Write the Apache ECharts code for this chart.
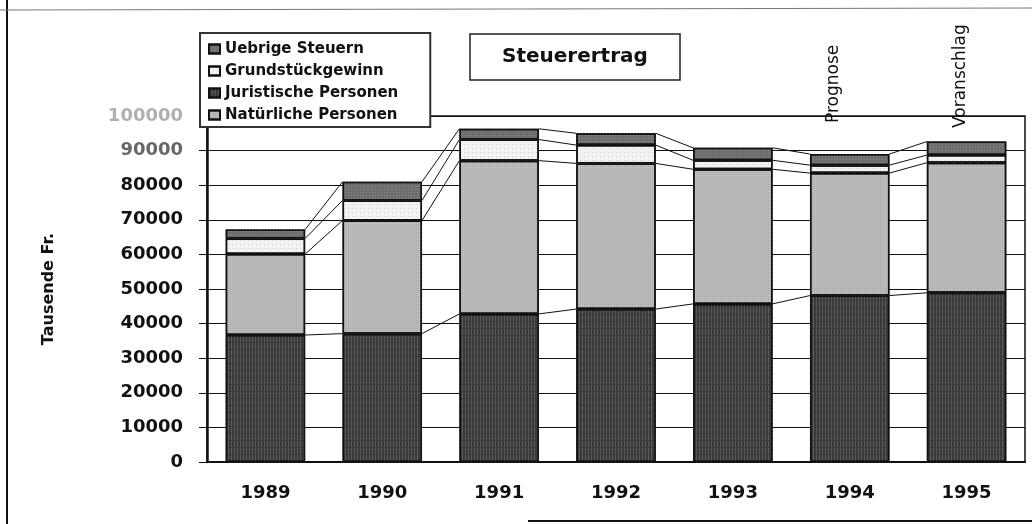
<!DOCTYPE html>
<html>
<head>
<meta charset="utf-8">
<title>Steuerertrag</title>
<script src="https://cdn.jsdelivr.net/npm/echarts@6/dist/echarts.min.js"></script>
<style>
  html, body { margin: 0; padding: 0; background: #fff; }
  #chart { width: 1032px; height: 524px; }
</style>
</head>
<body>
<div id="chart"></div>
<script>
// Daten (Tausende Fr.), von unten nach oben gestapelt
var years = ["1989", "1990", "1991", "1992", "1993", "1994", "1995"];
var juristische = [36700, 37100, 42800, 44200, 45700, 48100, 48900];
var natuerliche = [23400, 32700, 44300, 42100, 38900, 35400, 37600];
var grundstueck = [4500, 5800, 6100, 5300, 2600, 2300, 2200];
var uebrige = [2600, 5400, 3100, 3400, 3600, 3200, 3900];
var noteYears = ["1994", "1995"];
var noteTexts = ["Prognose", "Voranschlag"];

var font = "DejaVu Sans";
var barFrac = 0.68;

// kumulierte Werte je Jahr fuer die Verbindungslinien
var stacks = [juristische, natuerliche, grundstueck, uebrige];
var cum = years.map(function (y, i) {
  var s = 0;
  return stacks.map(function (arr) {
    s += arr[i];
    return s;
  });
});
var linkData = [];
for (var i = 0; i < years.length - 1; i++) {
  linkData.push([i].concat(cum[i], cum[i + 1]));
}

function barSeries(name, data, color, decal) {
  return {
    name: name,
    type: "bar",
    stack: "total",
    barWidth: barFrac * 100 + "%",
    data: data,
    itemStyle: {
      color: color,
      borderColor: "#111",
      borderWidth: 1.5,
      decal: decal
    }
  };
}

var myChart = echarts.init(document.getElementById("chart"));
var option = {
  animation: false,
  backgroundColor: "#fff",
  title: {
    text: "Steuerertrag",
    left: 470,
    top: 34,
    padding: [13, 32, 13, 32],
    borderColor: "#222",
    borderWidth: 1.5,
    textStyle: { fontFamily: font, fontSize: 20, fontWeight: "bold", color: "#111" }
  },
  legend: {
    orient: "vertical",
    left: 200,
    top: 33,
    padding: [7, 32, 3, 8],
    icon: "rect",
    itemWidth: 11,
    itemHeight: 9,
    itemGap: 4,
    backgroundColor: "#fff",
    borderColor: "#333",
    borderWidth: 2,
    data: ["Uebrige Steuern", "Grundstückgewinn", "Juristische Personen", "Natürliche Personen"],
    textStyle: { fontFamily: font, fontSize: 15, fontWeight: "bold", color: "#111", lineHeight: 18 }
  },
  grid: {
    left: 207,
    right: 7,
    top: 116,
    bottom: 62,
    show: true,
    borderColor: "#111",
    borderWidth: 1.5
  },
  xAxis: {
    type: "category",
    data: years,
    axisLine: { lineStyle: { color: "#111", width: 2 } },
    axisTick: { length: 6, lineStyle: { color: "#111" } },
    axisLabel: { margin: 22, fontFamily: font, fontSize: 18, fontWeight: "bold", color: "#111" }
  },
  yAxis: {
    type: "value",
    min: 0,
    max: 100000,
    interval: 10000,
    name: "Tausende Fr.",
    nameLocation: "middle",
    nameRotate: 90,
    nameGap: 150,
    nameTextStyle: { fontFamily: font, fontSize: 16, fontWeight: "bold", color: "#111" },
    axisLine: { show: true, lineStyle: { color: "#111", width: 2.5 } },
    axisTick: { show: true, length: 8, lineStyle: { color: "#111" } },
    axisLabel: {
      margin: 24,
      fontFamily: font,
      fontSize: 18,
      fontWeight: "bold",
      formatter: function (v) {
        return String(v);
      },
      color: function (v) {
        // oberste Beschriftungen sind im Original verblasst
        if (v == 100000) return "#b0b0b0";
        if (v == 90000) return "#666";
        return "#111";
      }
    },
    splitLine: { lineStyle: { color: "#111", width: 1.2 } }
  },
  series: [
    barSeries("Juristische Personen", juristische, "#3a3a3a", {
      symbol: "rect", symbolSize: 1, color: "rgba(255,255,255,0.18)",
      dashArrayX: [1, 2], dashArrayY: [6, 1], rotation: 0
    }),
    barSeries("Natürliche Personen", natuerliche, "#bdbdbd", {
      symbol: "rect", symbolSize: 1, color: "rgba(0,0,0,0.12)",
      dashArrayX: [1, 1], dashArrayY: [1, 1], rotation: 0
    }),
    barSeries("Grundstückgewinn", grundstueck, "#f2f2f2", {
      symbol: "rect", symbolSize: 1, color: "rgba(0,0,0,0.15)",
      dashArrayX: [1, 3], dashArrayY: [1, 3], rotation: 0
    }),
    barSeries("Uebrige Steuern", uebrige, "#6e6e6e", {
      symbol: "rect", symbolSize: 1, color: "rgba(255,255,255,0.2)",
      dashArrayX: [1, 2], dashArrayY: [1, 2], rotation: 0
    }),
    {
      // Verbindungslinien zwischen den Saeulen
      name: "links",
      type: "custom",
      silent: true,
      data: linkData,
      encode: { x: 0, y: 1 },
      renderItem: function (params, api) {
        var idx = api.value(0);
        var hw = api.size([1, 0])[0] * barFrac / 2;
        var children = [];
        for (var k = 0; k < 4; k++) {
          var p1 = api.coord([idx, api.value(1 + k)]);
          var p2 = api.coord([idx + 1, api.value(5 + k)]);
          children.push({
            type: "line",
            shape: { x1: p1[0] + hw, y1: p1[1], x2: p2[0] - hw, y2: p2[1] },
            style: { stroke: "#111", lineWidth: 1 }
          });
        }
        return { type: "group", children: children };
      }
    }
  ]
};
myChart.setOption(option);

// Anmerkungen ueber den Saeulen + Rahmen
var noteDx = [-16, -6];
var noteBottom = [123, 128];
var graphics = [
  { type: "line", shape: { x1: 7, y1: 0, x2: 7, y2: 524 }, style: { stroke: "#111", lineWidth: 2 } },
  { type: "line", shape: { x1: 0, y1: 10, x2: 1032, y2: 8 }, style: { stroke: "#777", lineWidth: 1.2 } },
  { type: "line", shape: { x1: 528, y1: 521, x2: 1032, y2: 521 }, style: { stroke: "#111", lineWidth: 2 } }
];
noteYears.forEach(function (y, i) {
  var px = myChart.convertToPixel({ xAxisIndex: 0 }, y);
  graphics.push({
    type: "text",
    x: px + noteDx[i],
    y: noteBottom[i],
    rotation: Math.PI / 2,
    style: {
      text: noteTexts[i],
      align: "left",
      verticalAlign: "middle",
      font: "17px " + font,
      fill: "#111"
    }
  });
});
myChart.setOption({ graphic: graphics });
</script>
</body>
</html>
